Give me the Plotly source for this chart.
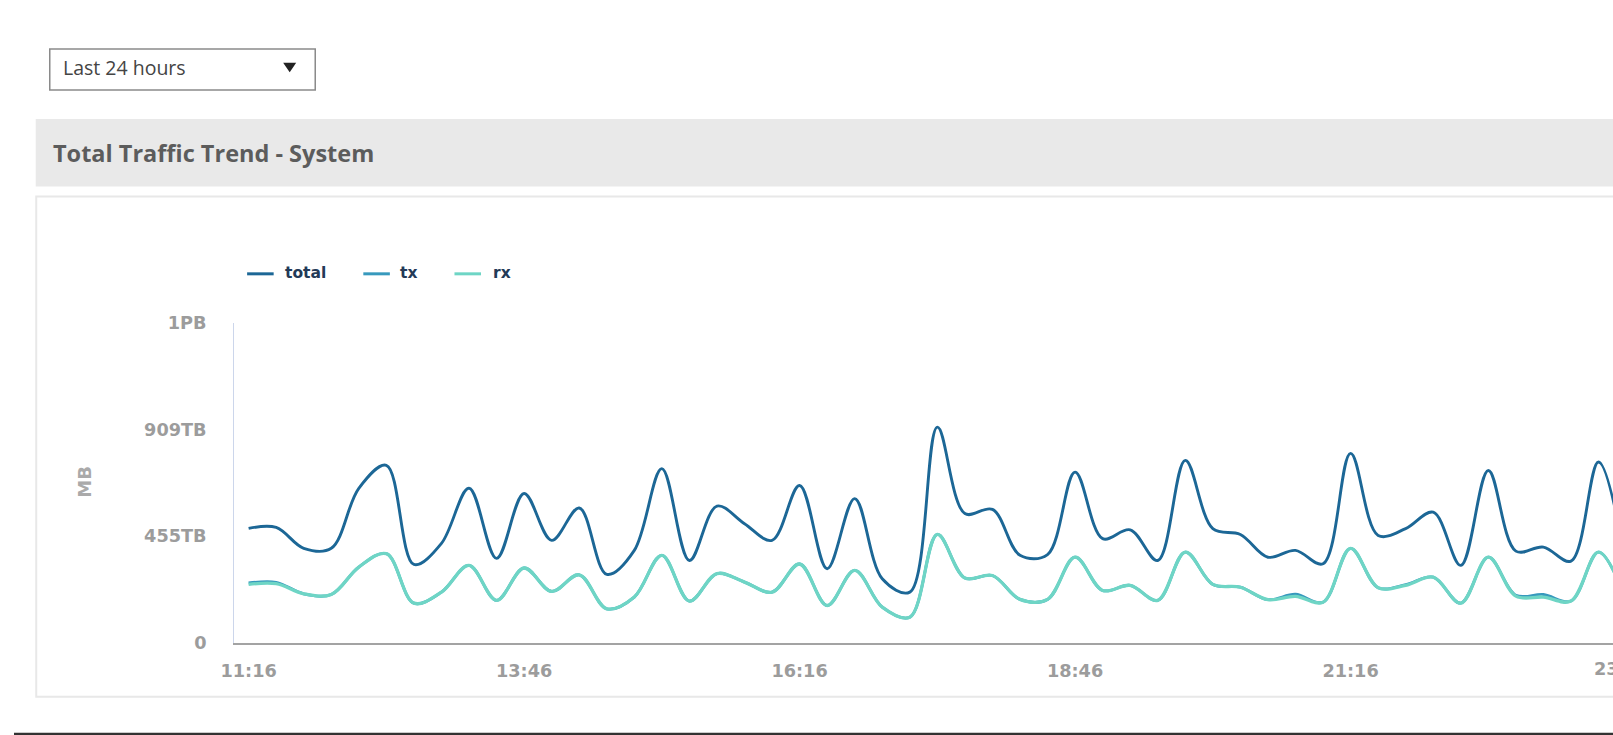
import plotly.graph_objects as go
import pandas as pd

# ---- data (TB) ----
start_time = "2024-01-01 11:16"
n_points = 51
times = pd.date_range(start_time, periods=n_points, freq="15min")

total = [488, 492, 403, 403, 659, 757, 334, 424, 659, 360, 637, 437, 575, 292, 394,
         743, 351, 583, 508, 437, 671, 316, 615, 273, 216, 920, 551, 569, 373, 376,
         728, 444, 482, 351, 778, 487, 462, 365, 394, 337, 808, 458, 487, 557, 330,
         735, 391, 408, 348, 771, 330]
tx = [255, 258, 209, 206, 323, 380, 169, 216, 330, 181, 319, 219, 290, 145, 195,
      373, 178, 295, 259, 216, 336, 159, 309, 152, 109, 462, 276, 287, 185, 185,
      365, 223, 245, 181, 387, 249, 237, 184, 207, 173, 403, 235, 248, 280, 169,
      365, 203, 206, 178, 387, 181]
rx = [249, 252, 209, 206, 323, 380, 169, 216, 330, 181, 319, 219, 290, 145, 195,
      373, 178, 295, 259, 216, 336, 159, 309, 152, 109, 462, 276, 287, 185, 185,
      365, 223, 245, 181, 387, 249, 237, 184, 198, 173, 403, 235, 245, 280, 169,
      365, 199, 195, 178, 387, 181]

series_names = ["total", "tx", "rx"]
series_colors = ["#1c6796", "#3799bd", "#6ed5c5"]
y_tick_vals = [0, 455, 909, 1364]
y_tick_text = ["0", "455TB", "909TB", "1PB"]
x_tick_labels = ["11:16", "13:46", "16:16", "18:46", "21:16"]
clipped_tick_label = "23:46"

# ---- layout geometry ----
FW, FH = 1620, 748
# target positions are given in screenshot pixels; map them to figure pixels
SX, OX, SY, OY = 0.9896, 12.3, 0.9739, 9.3
def fxp(x): return (x - OX) / SX
def fyp(y): return (y - OY) / SY
def px(x): return fxp(x) / FW
def py(y): return 1 - fyp(y) / FH

PLOT_L, PLOT_T, PLOT_B = 232, 322.5, 642.5
ANCHOR = 246.5                      # screenshot x of 11:16
PX_PER_MIN = (110 / 60) / SX        # figure px per minute
t0 = times[0]
x_start = t0 - pd.Timedelta(minutes=(fxp(ANCHOR) - fxp(PLOT_L)) / PX_PER_MIN)
x_end = t0 + pd.Timedelta(minutes=(FW - fxp(ANCHOR)) / PX_PER_MIN)
tick_times = [t0 + pd.Timedelta(minutes=150 * k) for k in range(len(x_tick_labels))]

fig = go.Figure()
for name, vals, col, w in zip(series_names, [total, tx, rx], series_colors, [2.9, 2.8, 3.3]):
    fig.add_trace(go.Scatter(x=times, y=vals, name=name, mode="lines",
                             line=dict(color=col, width=w, shape="spline", smoothing=1.0),
                             showlegend=False))

tick_font = dict(family="DejaVu Sans", size=17.7, color="#9c9c9c", weight="bold")

fig.update_layout(
    width=FW, height=FH, margin=dict(l=0, r=0, t=0, b=0),
    paper_bgcolor="white", plot_bgcolor="rgba(0,0,0,0)",
    xaxis=dict(domain=[px(PLOT_L), 1], range=[x_start, x_end],
               tickvals=tick_times, ticktext=x_tick_labels, showgrid=False,
               zeroline=False, showline=True, linecolor="#a3a3a3", linewidth=2,
               ticks="", tickfont=tick_font, ticklabelstandoff=11),
    yaxis=dict(domain=[py(PLOT_B), py(PLOT_T)], range=[0, 1364],
               tickvals=y_tick_vals, ticktext=y_tick_text, showgrid=False,
               zeroline=False, showline=True, linecolor="#ccd6eb", linewidth=1,
               ticks="", tickfont=tick_font, ticklabelstandoff=23),
    showlegend=False,
)

shapes = []
# dropdown
shapes.append(dict(type="rect", xref="paper", yref="paper", x0=px(48), x1=px(313), y0=py(48.3), y1=py(89.4),
                   line=dict(color="#8a8a8a", width=1.5), fillcolor="white", layer="below"))
shapes.append(dict(type="path", xref="paper", yref="paper",
                   path=f"M {px(281)} {py(62)} L {px(294)} {py(62)} L {px(287.5)} {py(71.5)} Z",
                   fillcolor="#222", line=dict(width=0)))
# header band
shapes.append(dict(type="rect", xref="paper", yref="paper", x0=px(34), x1=1, y0=py(118.3), y1=py(186),
                   line=dict(width=0), fillcolor="#e9e9e9", layer="below"))
# chart panel
shapes.append(dict(type="rect", xref="paper", yref="paper", x0=px(34.5), x1=1.05, y0=py(196), y1=py(696.5),
                   line=dict(color="#e8e8e8", width=2), fillcolor="white", layer="below"))
# frame edges
shapes.append(dict(type="line", xref="paper", yref="paper", x0=(FW - 1.5) / FW, x1=(FW - 1.5) / FW, y0=0, y1=1,
                   line=dict(color="#9a9a9a", width=2)))
shapes.append(dict(type="line", xref="paper", yref="paper", x0=0, x1=1, y0=py(733.8), y1=py(733.8),
                   line=dict(color="#333", width=2.5)))
# legend samples
legend_x = [245, 361, 452]
legend_text_x = [280.5, 396, 488.5]
for lx, col in zip(legend_x, series_colors):
    shapes.append(dict(type="line", xref="paper", yref="paper", x0=px(lx), x1=px(lx + 26.5),
                       y0=py(273.3), y1=py(273.3), line=dict(color=col, width=3)))
fig.update_layout(shapes=shapes)

ann = []
ann.append(dict(text="Last 24 hours", x=px(59.5), y=py(66.8), xanchor="left", yanchor="middle",
                font=dict(family="Open Sans", size=19.5, color="#444")))
ann.append(dict(text="Total Traffic Trend - System", x=px(49.5), y=py(152.5), xanchor="left", yanchor="middle",
                font=dict(family="Open Sans", size=23.5, color="#5c5c5c", weight="bold")))
for tx_, name in zip(legend_text_x, series_names):
    ann.append(dict(text=name, x=px(tx_), y=py(272.8), xanchor="left", yanchor="middle",
                    font=dict(family="DejaVu Sans", size=15.5, color="#233a57", weight="bold")))
ann.append(dict(text="MB", x=px(82.5), y=py(481), xanchor="center", yanchor="middle", textangle=-90,
                font=dict(family="DejaVu Sans", size=18, color="#aaaaaa", weight="bold")))
ann.append(dict(text=clipped_tick_label, x=px(ANCHOR + 12.5 * 110 - 4), y=py(669), xanchor="center", yanchor="middle",
                font=tick_font))
for a in ann:
    a.update(xref="paper", yref="paper", showarrow=False)
fig.update_layout(annotations=ann)

fig.write_html("out.html")
